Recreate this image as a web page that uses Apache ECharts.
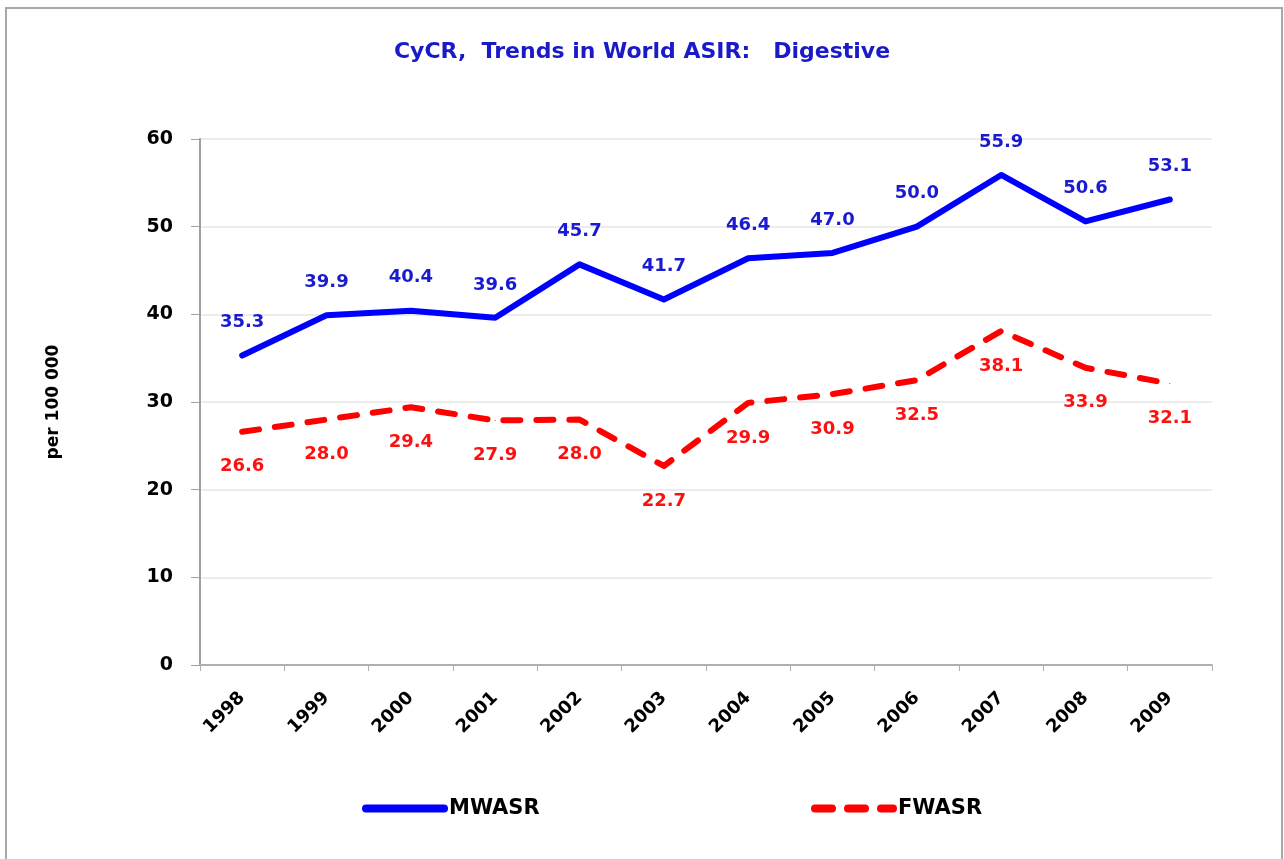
<!DOCTYPE html>
<html>
<head>
<meta charset="utf-8">
<title>CyCR, Trends in World ASIR: Digestive</title>
<script src="https://cdn.jsdelivr.net/npm/echarts@6/dist/echarts.min.js"></script>
<style>
  html, body { margin: 0; padding: 0; background: #fff; }
  #chart { width: 1284px; height: 859px; }
</style>
</head>
<body>
<div id="chart"></div>
<script>
  // data
  const years = ['1998', '1999', '2000', '2001', '2002', '2003', '2004', '2005', '2006', '2007', '2008', '2009'];
  const mwasr = [35.3, 39.9, 40.4, 39.6, 45.7, 41.7, 46.4, 47.0, 50.0, 55.9, 50.6, 53.1];
  const fwasr = [26.6, 28.0, 29.4, 27.9, 28.0, 22.7, 29.9, 30.9, 32.5, 38.1, 33.9, 32.1];
  const yTicks = [0, 10, 20, 30, 40, 50, 60];

  const FONT = 'DejaVu Sans';

  let chart = echarts.init(document.getElementById('chart'));

  let makeLabel = (color, dy) => ({
    show: true,
    position: 'inside',
    offset: [0, dy],
    color: color,
    fontFamily: FONT,
    fontSize: 18,
    fontWeight: 'bold',
    formatter: p => p.value.toFixed(1)
  });

  let legendBase = {
    top: 793,
    itemWidth: 78,
    itemHeight: 20,
    itemGap: 6,
    itemStyle: { opacity: 0 },
    lineStyle: { width: 8, cap: 'round' },
    textStyle: { color: '#000', fontFamily: FONT, fontSize: 21, fontWeight: 'bold' }
  };

  let option = {
    animation: false,
    backgroundColor: '#fff',
    title: {
      text: 'CyCR,  Trends in World ASIR:   Digestive',
      left: 'center',
      top: 36,
      textStyle: { color: '#1a1ac8', fontFamily: FONT, fontSize: 22, fontWeight: 'bold' }
    },
    // two legends so each item sits where it does in the picture
    legend: [
      Object.assign({}, legendBase, { data: ['MWASR'], left: 357 }),
      Object.assign({}, legendBase, { data: ['FWASR'], left: 806 })
    ],
    grid: { left: 200, right: 72, top: 139, bottom: 194 },
    xAxis: {
      type: 'category',
      data: years,
      boundaryGap: true,
      axisLine: { lineStyle: { color: '#b0b0b0', width: 2 } },
      axisTick: { show: true, length: 6, lineStyle: { color: '#b0b0b0' } },
      axisLabel: {
        rotate: 45,
        margin: 30,
        color: '#000',
        fontFamily: FONT,
        fontSize: 18,
        fontWeight: 'bold'
      }
    },
    yAxis: {
      type: 'value',
      min: yTicks[0],
      max: yTicks[yTicks.length - 1],
      interval: 10,
      name: 'per 100 000',
      nameLocation: 'middle',
      nameGap: 138,
      nameRotate: 90,
      nameTextStyle: { color: '#000', fontFamily: FONT, fontSize: 17, fontWeight: 'bold' },
      axisLine: { show: true, lineStyle: { color: '#a0a0a0', width: 2 } },
      axisTick: { show: true, length: 9, lineStyle: { color: '#a0a0a0' } },
      axisLabel: {
        margin: 27,
        color: '#000',
        fontFamily: FONT,
        fontSize: 19,
        fontWeight: 'bold'
      },
      splitLine: { lineStyle: { color: '#ececec', width: 2 } }
    },
    series: [{
      name: 'MWASR',
      type: 'line',
      data: mwasr,
      symbol: 'circle',
      symbolSize: 1,
      itemStyle: { color: '#0000ff' },
      lineStyle: { color: '#0000ff', width: 6, cap: 'round', join: 'round' },
      label: makeLabel('#1a1ad0', -33),
      z: 3
    }, {
      name: 'FWASR',
      type: 'line',
      data: fwasr,
      symbol: 'circle',
      symbolSize: 1,
      itemStyle: { color: '#ff0000' },
      lineStyle: { color: '#ff0000', width: 6, type: [17, 16], cap: 'round', join: 'round' },
      label: makeLabel('#ff1010', 35),
      z: 2
    }],
    graphic: [{
      type: 'rect',
      shape: { x: 6, y: 8, width: 1276, height: 852 },
      style: { fill: null, stroke: '#a8a8a8', lineWidth: 2 },
      silent: true
    }]
  };

  chart.setOption(option);
</script>
</body>
</html>
